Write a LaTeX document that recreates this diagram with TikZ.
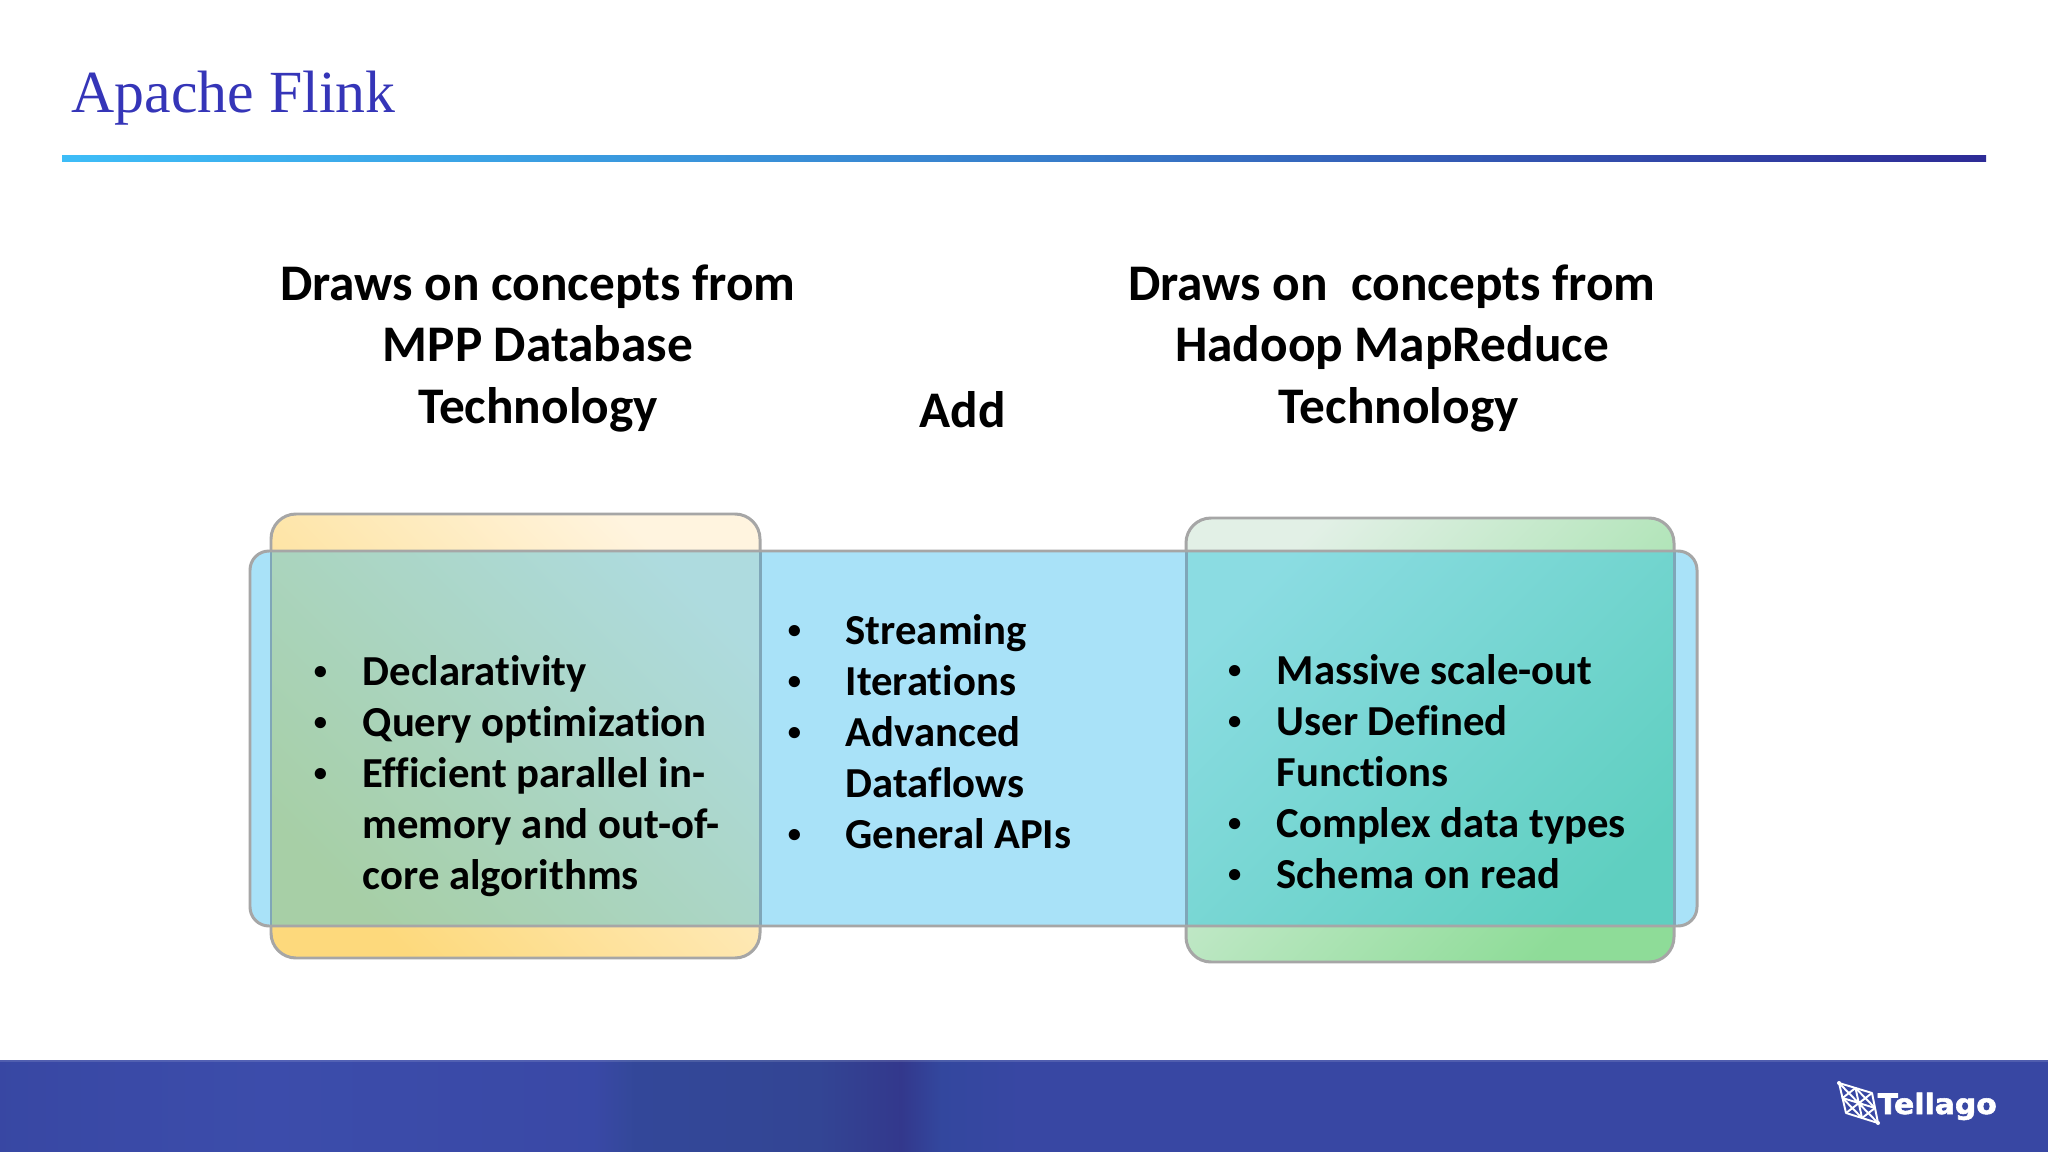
\documentclass[tikz,border=0pt]{standalone}
\usepackage{fontspec}
\usepackage{graphicx}
\setmainfont[Ligatures=NoCommon]{Carlito}
\newfontfamily\titlefont{Liberation Serif}
\newfontfamily\logofont[BoldFeatures={FakeBold=2}]{DejaVu Sans}
\usetikzlibrary{shadings}
\definecolor{titleblue}{HTML}{3535B8}
\definecolor{edgegray}{HTML}{A6A6A6}
\definecolor{overedge}{HTML}{7FA6B8}
\definecolor{midblue}{HTML}{A9E2F8}
\definecolor{yelA}{HTML}{FDD97C}
\definecolor{yelB}{HTML}{FFF4DF}
\definecolor{yelOA}{HTML}{A7CFA6}
\definecolor{yelOB}{HTML}{AEDBDF}
\definecolor{grnA}{HTML}{E2F0E6}
\definecolor{grnB}{HTML}{8EDC98}
\definecolor{grnOA}{HTML}{8BDCE2}
\definecolor{grnOB}{HTML}{5FCFC0}
\pgfdeclarehorizontalshading{titlerule}{100bp}{
 rgb(0bp)=(0.24,0.74,0.97);rgb(25bp)=(0.24,0.74,0.97);
 rgb(50bp)=(0.22,0.50,0.80);rgb(75bp)=(0.18,0.17,0.59);rgb(100bp)=(0.18,0.17,0.59)}
\pgfdeclarehorizontalshading{footerband}{100bp}{
 rgb(0bp)=(0.22,0.28,0.64);rgb(25bp)=(0.22,0.28,0.64);
 rgb(31.5bp)=(0.235,0.30,0.67);rgb(39.5bp)=(0.225,0.285,0.65);
 rgb(40.5bp)=(0.20,0.28,0.60);rgb(45bp)=(0.20,0.27,0.58);
 rgb(47bp)=(0.20,0.22,0.55);rgb(48bp)=(0.20,0.28,0.62);
 rgb(50bp)=(0.22,0.28,0.64);rgb(75bp)=(0.22,0.28,0.64);rgb(100bp)=(0.22,0.28,0.64)}
\tikzset{
 head/.style={font=\fontsize{14.6pt}{17.47pt}\selectfont\bfseries,align=center,inner sep=0pt},
 itemlist/.style={font=\fontsize{12.15pt}{14.5pt}\selectfont\bfseries,align=left,inner sep=0pt,anchor=base west},
 frame/.style={line width=0.85pt,draw=edgegray},
 logoline/.style={draw=white,line width=0.55pt,line join=round}
}
\newcommand{\itm}[2][10.1pt]{\llap{\raisebox{1.5pt}{\scalebox{0.62}{\textbullet}}\hspace{#1}}#2}
\begin{document}
\begin{tikzpicture}[x=0.01cm,y=-0.01cm]
\useasboundingbox (0,0) rectangle (2048,1152);
\fill[white] (0,0) rectangle (2048,1152);
% title
\node[anchor=base west,inner sep=0pt,text=titleblue,font=\fontsize{17pt}{20pt}\selectfont\titlefont] (title) at (71,113) {Apache Flink};
\shade[shading=titlerule] (62,155.5) rectangle (1986,162);
% back bands of the two outer boxes
\path[frame,rounded corners=0.25cm,bottom color=yelA,top color=yelB,shading angle=-45] (271,514) rectangle (760,958);
\path[frame,rounded corners=0.25cm,top color=grnA,bottom color=grnB,shading angle=45] (1186,518) rectangle (1674,962);
% centre band
\path[fill=midblue] [rounded corners=0.19cm] (250,551) rectangle (1697,926);
% overlaps
\begin{scope}
\clip[rounded corners=0.19cm] (250,551) rectangle (1697,926);
\path[rounded corners=0.25cm,bottom color=yelOA,top color=yelOB,shading angle=-45] (271,514) rectangle (760,958);
\path[rounded corners=0.25cm,top color=grnOA,bottom color=grnOB,shading angle=45] (1186,518) rectangle (1674,962);
\draw[line width=0.85pt,overedge] (271,514) -- (271,958) (760,514) -- (760,958) (1186,518) -- (1186,962) (1674,518) -- (1674,962);
\end{scope}
\draw[frame,rounded corners=0.19cm] (250,551) rectangle (1697,926);
% headings
\node[head] (hleft) at (538,348.5) {Draws on concepts from\\MPP Database\\Technology};
\node[head] (hright) at (1392,348.5) {Draws on\ \ concepts from\\Hadoop MapReduce\\\hspace*{3.8pt}Technology};
\node[head] (hadd) at (962.5,410) {Add};
% lists
\node[itemlist] (lleft) at (362,889) {\itm{Declarativity}\\\itm{Query optimization}\\\itm{Efficient parallel in-}\\memory and out-of-\\core algorithms};
\node[itemlist] (lmid) at (845,848) {\itm[12.7pt]{Streaming}\\\itm[12.7pt]{Iterations}\\\itm[12.7pt]{Advanced}\\Dataflows\\\itm[12.7pt]{General APIs}};
\node[itemlist] (lright) at (1276,888) {\itm{Massive scale-out}\\\itm{User Defined}\\Functions\\\itm{Complex data types}\\\itm{Schema on read}};
% footer
\shade[shading=footerband] (0,1060) rectangle (2048,1152);
\fill[white,opacity=0.12] (0,1060) rectangle (2048,1062);
% logo
\draw[logoline] (1839,1083) -- (1872,1093) -- (1878,1123) -- (1846,1113) -- cycle;
\draw[logoline] (1839,1083) -- (1878,1123) (1872,1093) -- (1846,1113) (1855.5,1088) -- (1862,1118) (1842.5,1098) -- (1875,1108);
\draw[logoline] (1855.5,1088) -- (1842.5,1098) -- (1862,1118) -- (1875,1108) -- cycle;
\fill[white] (1839,1083) circle (2) (1878,1123) circle (2);
\node[anchor=base west,inner sep=0pt,text=white,font=\fontsize{8pt}{9pt}\selectfont\bfseries\logofont] (logo) at (1877,1114) {\scalebox{1.06}[1]{Tellago}};
\end{tikzpicture}
\end{document}
